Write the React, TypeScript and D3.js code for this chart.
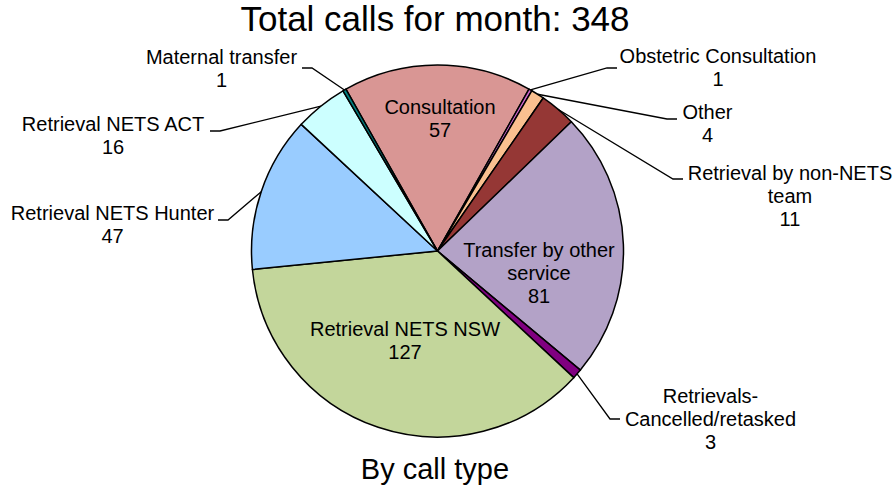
import React from 'react';
import * as d3 from 'd3';

// categories in clockwise order, starting at the Consultation slice
const categories = [
  'Consultation',
  'Obstetric Consultation',
  'Other',
  'Retrieval by non-NETS team',
  'Transfer by other service',
  'Retrievals-Cancelled/retasked',
  'Retrieval NETS NSW',
  'Retrieval NETS Hunter',
  'Retrieval NETS ACT',
  'Maternal transfer',
];
const values = [57, 1, 4, 11, 81, 3, 127, 47, 16, 1];
const colors = [
  '#D99694', '#CC66CC', '#FAC090', '#953735', '#B3A2C7',
  '#800080', '#C3D69B', '#99CCFF', '#CCFFFF', '#008080',
];
// label text lines (the value is appended as the last line)
const labelLines = [
  ['Consultation'],
  ['Obstetric Consultation'],
  ['Other'],
  ['Retrieval by non-NETS', 'team'],
  ['Transfer by other', 'service'],
  ['Retrievals-', 'Cancelled/retasked'],
  ['Retrieval NETS NSW'],
  ['Retrieval NETS Hunter'],
  ['Retrieval NETS ACT'],
  ['Maternal transfer'],
];

const title = 'Total calls for month: ' + d3.sum(values);
const subtitle = 'By call type';

const width = 894;
const height = 489;
const cx = 437.5;
const cy = 251;
const radius = 186;
const startDeg = -29.5;

// label layout: x centre, first baseline, and leader end (null = inside label)
type Layout = { x: number; y: number; lead: [number, number] | null; side: number };
const layout: Layout[] = [
  { x: 440, y: 114, lead: null, side: 0 },
  { x: 718, y: 63, lead: [617, 68], side: -1 },
  { x: 707.5, y: 119, lead: [677, 119], side: -1 },
  { x: 790, y: 180, lead: [683, 179], side: -1 },
  { x: 539, y: 257, lead: null, side: 0 },
  { x: 710.5, y: 403, lead: [620, 419], side: -1 },
  { x: 405, y: 336, lead: null, side: 0 },
  { x: 112.5, y: 220, lead: [218, 220], side: 1 },
  { x: 113, y: 131, lead: [210, 131], side: 1 },
  { x: 221.5, y: 64, lead: [302, 68], side: 1 },
];

const App = () => {
  const start = (startDeg * Math.PI) / 180;
  const pie = d3.pie<number>().sort(null).value(d => d)
    .startAngle(start).endAngle(start + Math.PI * 2);
  const arcs = pie(values);
  const arc = d3.arc<d3.PieArcDatum<number>>().innerRadius(0).outerRadius(radius);

  return (
    <svg width={width} height={height} style={{ position: 'absolute', left: 0, top: 0 }}
      fontFamily="'Liberation Sans', Arial, sans-serif">
      <rect width={width} height={height} fill="#fff" />
      <g transform={`translate(${cx},${cy})`}>
        {arcs.map((a, i) => (
          <path key={i} d={arc(a) || ''} fill={colors[i]} stroke="#000" strokeWidth={1.5} strokeLinejoin="round" />
        ))}
      </g>
      {arcs.map((a, i) => {
        const L = layout[i];
        if (!L.lead) return null;
        const mid = (a.startAngle + a.endAngle) / 2;
        const px = cx + radius * Math.sin(mid);
        const py = cy - radius * Math.cos(mid);
        const [ex, ey] = L.lead;
        const bx = ex + L.side * 10;
        return (
          <polyline key={i} points={`${px},${py} ${bx},${ey} ${ex},${ey}`}
            fill="none" stroke="#000" strokeWidth={1.3} />
        );
      })}
      {arcs.map((a, i) => {
        const L = layout[i];
        const lines = [...labelLines[i], String(values[i])];
        return (
          <text key={i} x={L.x} y={L.y} textAnchor="middle" fontSize={20} fill="#000">
            {lines.map((t, j) => (
              <tspan key={j} x={L.x} dy={j === 0 ? 0 : 23}>{t}</tspan>
            ))}
          </text>
        );
      })}
      <text x={435} y={31} textAnchor="middle" fontSize={35} fill="#000">{title}</text>
      <text x={435} y={479} textAnchor="middle" fontSize={29} fill="#000">{subtitle}</text>
    </svg>
  );
};

export default App;
